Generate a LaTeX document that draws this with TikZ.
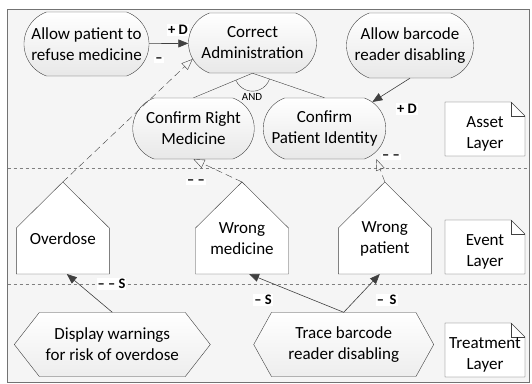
\documentclass[tikz,border=0pt]{standalone}
\usepackage{fontspec}
\setmainfont{Carlito}
\usetikzlibrary{shapes.misc,shapes.symbols,arrows.meta,positioning}

\tikzset{
  asset/.style={shape=rounded rectangle, rounded rectangle arc length=140, draw=black!75, top color=white, bottom color=gray!18, align=center, inner sep=1pt, font=\fontsize{17}{21}\selectfont},
  event/.style={align=center, inner sep=0pt, font=\fontsize{17}{21}\selectfont},
  eventline/.style={draw=black!75, fill=white},
  treat/.style={shape=signal, signal to=west and east, draw=black!75, top color=white, bottom color=gray!14, align=center, inner sep=1pt, minimum height=64pt, font=\fontsize{17}{21}\selectfont},
  notebox/.style={draw=black!75, fill=white},
  lbl/.style={fill=white, inner sep=1pt, font=\fontsize{14.5}{16}\bfseries},
  solidarrow/.style={draw=black!75, semithick, -{Triangle[length=10pt,width=8pt]}},
  dasharrow/.style={draw=black!75, dash pattern=on 7pt off 4pt, -{Triangle[open,length=11pt,width=9pt]}}
}

\begin{document}
\begin{tikzpicture}[x=1pt, y=1pt]
\useasboundingbox (0,0) rectangle (532,-383);
% frame and layer borders
\draw[black!55, fill=gray!8] (7.5,-9.5) rectangle (529,-382);
\draw[gray, dashed] (7.5,-168.5) -- (529,-168.5);
\draw[gray, dashed] (7.5,-284.5) -- (529,-284.5);

% asset layer
\node[asset, minimum width=127pt, minimum height=64pt] (refuse) at (86.5,-44) {Allow patient to\\refuse medicine};
\node[asset, minimum width=130pt, minimum height=60pt] (correctadm) at (252.5,-43) {Correct\\Administration};
\node[asset, minimum width=129pt, minimum height=65pt] (allowdisable) at (410,-45.5) {Allow barcode\\reader disabling};
\node[asset, minimum width=123.5pt, minimum height=61pt] (rightmed) at (193.5,-128.5) {Confirm Right\\Medicine};
\node[asset, minimum width=124.5pt, minimum height=61pt] (patid) at (324.5,-128.5) {Confirm\\Patient Identity};

% event layer
\foreach \n/\x/\t in {overdose/62.8/{Overdose}, wrongmed/242/{Wrong\\medicine}, wrongpat/384.8/{Wrong\\patient}} {
  \draw[eventline] (\x,-274) coordinate (\n-bot) -- ++(-46.5,0) -- ++(0,46) -- ++(46.5,46) coordinate (\n-tip) -- ++(46.5,-46) -- ++(0,-46) -- cycle;
  \node[event] (\n) at (\x,-239) {\t};
}

% treatment layer
\node[treat, minimum width=196pt, signal pointer angle=104] (warn) at (112.3,-344.5) {Display warnings\\for risk of overdose};
\node[treat, minimum width=180pt, signal pointer angle=122] (trace) at (343.7,-344.5) {Trace barcode\\reader disabling};

% layer notes
\foreach \n/\top/\t in {assetnote/-102/Asset, eventnote/-220/Event, treatnote/-323/Treatment} {
  \draw[notebox] (445,\top) -- (511,\top) -- (525,\top-14) -- (525,\top-54) -- (445,\top-54) -- cycle;
  \draw[black!75] (511,\top) -- (511,\top-14) -- (525,\top-14);
  \node[event] (\n) at (485,\top-32) {\t\\Layer};
}

% AND decomposition
\draw[black!75] (correctadm.south) -- (rightmed.north);
\draw[black!75] (correctadm.south) -- (patid.north);
\draw[black!75] (correctadm.south) ++(203:18) arc[start angle=203, end angle=341, radius=18];
\node[font=\fontsize{11}{12}\selectfont, inner sep=1pt] (andlbl) at (252,-97) {AND};

% contributions
\draw[solidarrow] (refuse) -- (correctadm);
\draw[solidarrow] (allowdisable.south) -- (patid.29);
\draw[dasharrow] (overdose-tip) -- (correctadm.195);
\draw[dasharrow] (wrongmed-tip) -- (rightmed.south);
\draw[dasharrow] (wrongpat-tip) -- ([xshift=52pt]patid.south);
\draw[solidarrow] (warn.north) -- ([xshift=4pt]overdose-bot);
\draw[solidarrow] (trace.north) -- ([xshift=7pt]wrongmed-bot);
\draw[solidarrow] (trace.north) -- ([xshift=-5pt]wrongpat-bot);

% labels
\node[lbl] (lrefuse) at (178,-30) {+ D};
\node[lbl] (loverdose) at (159,-60) {--};
\node[lbl] (ldisable) at (407,-109) {+ D};
\node[lbl] (lwrongmed) at (196,-182) {-- --};
\node[lbl] (lwrongpat) at (391,-157) {-- --};
\node[lbl] (lwarn) at (111.5,-284) {-- -- S};
\node[lbl] (ltracemed) at (263,-300) {-- S};
\node[lbl] (ltracepat) at (386.7,-300) {--\, S};
\end{tikzpicture}
\end{document}
